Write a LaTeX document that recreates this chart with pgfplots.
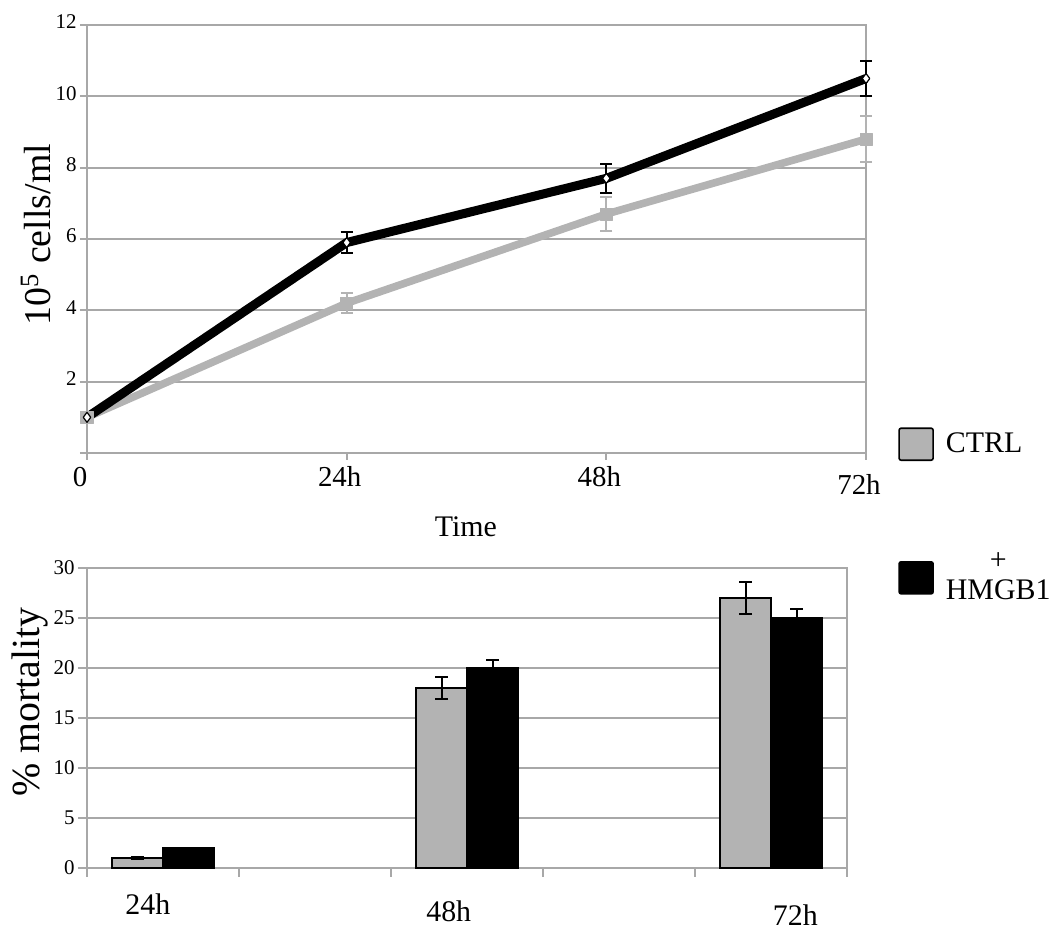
\documentclass[border=0pt]{standalone}
\usepackage{pgfplots}
\pgfplotsset{compat=1.18}
\usepackage{fontspec}
\setmainfont{Liberation Serif}
\definecolor{ctrlgray}{HTML}{B3B3B3}
\definecolor{gridgray}{HTML}{A8A8A8}

\pgfplotsset{
  common/.style={
    scale only axis,
    axis line style={gridgray, line width=1bp},
    tick style={gridgray, line width=1bp},
    major grid style={gridgray, line width=1bp},
    ymajorgrids,
    tick align=outside, xtick pos=bottom, ytick pos=left,
    major tick length=3.5bp,
    /pgf/number format/assume math mode=true,
    yticklabel style={font=\fontsize{10.5}{12}\selectfont, inner sep=1.5bp},
    clip=false,
  }
}

\pgfplotstableread{
x y e
0 1.0 0.05
24 4.2 0.28
48 6.7 0.48
72 8.8 0.65
}\ctrlline
\pgfplotstableread{
x y e
0 1.0 0.05
24 5.9 0.30
48 7.7 0.40
72 10.5 0.50
}\hmgline
\pgfplotstableread{
x y e
0 1.0 0.1
2 18 1.1
4 27 1.6
}\ctrlbar
\pgfplotstableread{
x y e
0 2.0 0.0
2 20 0.8
4 25 0.9
}\hmgbar

\begin{document}
\begin{tikzpicture}
\useasboundingbox (0bp,0bp) rectangle (531.5bp,470bp);
% ---------- top: growth curve ----------
\begin{axis}[
  common,
  at={(43.5bp,243.5bp)}, anchor=south west,
  width=389.5bp, height=214bp,
  xmin=0, xmax=72, ymin=0, ymax=12,
  xtick={0,24,48,72},
  xticklabels={0,24h,48h,\raisebox{-4bp}{72h}},
  xticklabel style={font=\fontsize{14.5}{17}\selectfont, anchor=base, yshift=-13.5bp, xshift=-3.5bp},
  ytick={0,2,...,12}, yticklabels={,2,4,6,8,10,12},
  yticklabel style={yshift=1.5bp},
  xlabel={Time},
  xlabel style={at={(axis description cs:0.4865,0)}, anchor=center, yshift=-37bp, font=\fontsize{15}{18}\selectfont},
  ylabel={10\textsuperscript{5} cells/ml},
  ylabel style={at={(axis description cs:-0.0655,0.51)}, anchor=center, font=\fontsize{19}{22}\selectfont},
]
\addplot[ctrlgray, line width=3.8bp, line join=round,
  mark=square*, mark size=3bp, mark options={fill=ctrlgray, draw=ctrlgray, line width=0.5bp},
  error bars/.cd, y dir=both, y explicit,
  error bar style={ctrlgray, line width=1bp},
  error mark options={rotate=90, mark size=3bp, ctrlgray, line width=1bp}]
  table[x=x, y=y, y error=e] {\ctrlline};
\addplot[black, line width=4.5bp, line join=round,
  mark=diamond*, mark size=2.5bp, mark options={fill=white, draw=black, line width=0.6bp},
  error bars/.cd, y dir=both, y explicit,
  error bar style={black, line width=1bp},
  error mark options={rotate=90, mark size=3bp, black, line width=1bp}]
  table[x=x, y=y, y error=e] {\hmgline};
\end{axis}
% ---------- bottom: mortality ----------
\begin{axis}[
  common,
  at={(43.5bp,36bp)}, anchor=south west,
  width=380bp, height=150bp,
  xmin=-0.5, xmax=4.5, ymin=0, ymax=30,
  ybar=0pt, bar width=25.5bp,
  ytick={0,5,...,30},
  major tick length=4.5bp,
  xtick={-0.5,0.5,...,4.5}, xticklabels={},
  extra x ticks={-0.1,1.88,4.16},
  extra x tick labels={24h,\raisebox{-3.5bp}{48h},\raisebox{-5.5bp}{72h}},
  extra x tick style={major tick length=0pt, grid=none,
    xticklabel style={anchor=base, yshift=-23.5bp, font=\fontsize{15}{18}\selectfont}},
  ylabel={\% mortality},
  ylabel style={at={(axis description cs:-0.075,0.553)}, anchor=center, font=\fontsize{20}{24}\selectfont},
  legend cell align=left,
  legend style={at={(axis description cs:1.067,1.47)}, anchor=north west,
    draw=none, fill=none, inner sep=0pt, row sep=44bp, column sep=4bp,
    font=\fontsize{15}{18}\selectfont},
]
\addplot[fill=ctrlgray, draw=black, line width=0.8bp,
  legend image code/.code={\draw[fill=ctrlgray, draw=black, line width=0.8bp, rounded corners=1bp] (0bp,-8bp) rectangle (17bp,8bp);},
  error bars/.cd, y dir=both, y explicit,
  error bar style={black, line width=1bp},
  error mark options={rotate=90, mark size=3.25bp, black, line width=1bp}]
  table[x=x, y=y, y error=e] {\ctrlbar};
\addplot[fill=black, draw=black, line width=0.8bp,
  legend image code/.code={\draw[fill=black, draw=black, line width=0.8bp, rounded corners=1bp] (0bp,-8bp) rectangle (17bp,8bp);},
  error bars/.cd, y dir=both, y explicit,
  error bar style={black, line width=1bp},
  error mark options={rotate=90, mark size=3.25bp, black, line width=1bp}]
  table[x=x, y=y, y error=e] {\hmgbar};
\legend{CTRL, {\shortstack{+\\[2bp]HMGB1}}}
\end{axis}
\end{tikzpicture}
\end{document}
